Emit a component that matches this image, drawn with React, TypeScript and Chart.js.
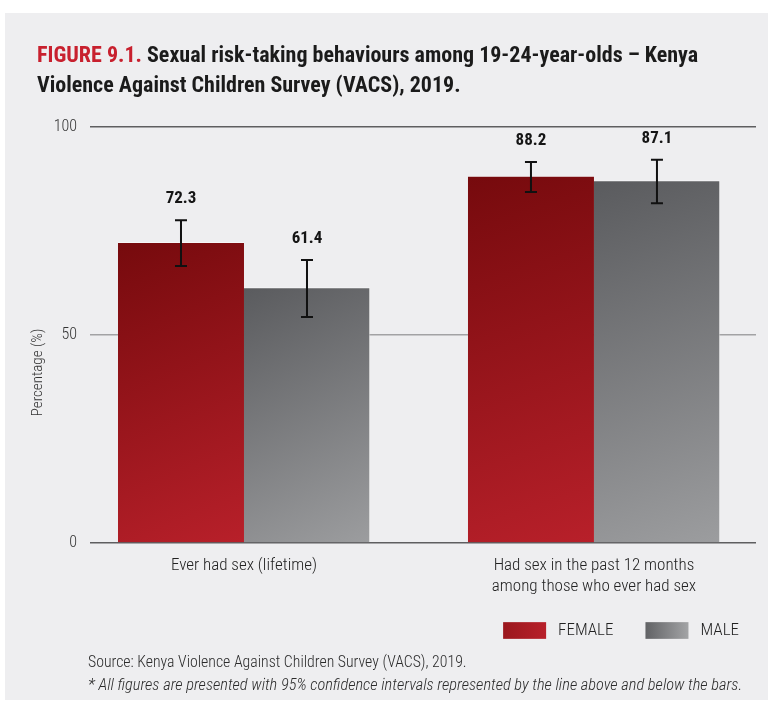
import React, { useEffect, useRef } from 'react';
import { Chart, registerables } from 'chart.js';

Chart.register(...registerables);

const categories: string[][] = [
  ['Ever had sex (lifetime)'],
  ['Had sex in the past 12 months', 'among those who ever had sex'],
];
const seriesNames = ['FEMALE', 'MALE'];
const femaleValues = [72.3, 88.2];
const maleValues = [61.4, 87.1];
const femaleLow = [66.6, 84.4];
const femaleHigh = [77.6, 91.6];
const maleLow = [54.3, 81.7];
const maleHigh = [68.0, 92.1];
const yTicks = [0, 50, 100];

const COND = '"Roboto Condensed", "DejaVu Sans Condensed", sans-serif';

export default function App() {
  const ref = useRef<HTMLCanvasElement>(null);

  useEffect(() => {
    const canvas = ref.current!;
    const ctxMain = canvas.getContext('2d')!;
    const highs = [femaleHigh, maleHigh];
    const lows = [femaleLow, maleLow];
    const solid = ['#9c161c', '#7d7e81'];
    const grad = [
      ['#760a0d', '#b8202a'],
      ['#5a5b5e', '#9c9d9f'],
    ];
    const legendGrad = [
      ['#9a171d', '#b8202a'],
      ['#616265', '#a3a4a6'],
    ];
    const BAR = 126;
    const SW = 43;
    const SW_OFF = 7;

    const barColor = (di: number) => (context: any) => {
      if (context.type !== 'data') return solid[di];
      const chart = context.chart;
      const xs = chart.scales.x;
      const ys = chart.scales.y;
      if (!xs || !ys || !chart.chartArea) return solid[di];
      const cx = xs.getPixelForValue(context.dataIndex) + (di === 0 ? -BAR / 2 : BAR / 2);
      const top = ys.getPixelForValue(context.raw.y);
      const bottom = ys.getPixelForValue(0);
      if (!isFinite(cx) || !isFinite(top)) return solid[di];
      const g = ctxMain.createLinearGradient(cx - BAR / 2, top, cx + BAR / 2, bottom);
      g.addColorStop(0, grad[di][0]);
      g.addColorStop(1, grad[di][1]);
      return g;
    };

    const errorPlugin = {
      id: 'errorBars',
      afterDatasetsDraw(chart: any) {
        const ctx = chart.ctx;
        const ys = chart.scales.y;
        ctx.save();
        chart.data.datasets.forEach((ds: any, di: number) => {
          const meta = chart.getDatasetMeta(di);
          meta.data.forEach((bar: any, i: number) => {
            const x = bar.x;
            const yh = ys.getPixelForValue(highs[di][i]);
            const yl = ys.getPixelForValue(lows[di][i]);
            ctx.strokeStyle = '#111';
            ctx.lineWidth = 2;
            ctx.beginPath();
            ctx.moveTo(x, yh);
            ctx.lineTo(x, yl);
            ctx.moveTo(x - 6, yh);
            ctx.lineTo(x + 6, yh);
            ctx.moveTo(x - 6, yl);
            ctx.lineTo(x + 6, yl);
            ctx.stroke();
            ctx.fillStyle = '#151515';
            ctx.font = `bold 17px ${COND}`;
            ctx.textAlign = 'center';
            ctx.textBaseline = 'middle';
            ctx.fillText(ds.data[i].y.toFixed(1), x, yh - 21);
          });
        });
        ctx.restore();
      },
      afterDraw(chart: any) {
        const ctx = chart.ctx;
        const area = chart.chartArea;
        ctx.save();
        ctx.translate(38, area.top + (area.bottom - area.top) * 0.59);
        ctx.rotate(-Math.PI / 2);
        ctx.fillStyle = '#333';
        ctx.font = `300 15px ${COND}`;
        ctx.textAlign = 'center';
        ctx.textBaseline = 'middle';
        ctx.fillText('Percentage (%)', 0, 0);
        ctx.restore();
        const lg = chart.legend;
        if (lg && lg.legendHitBoxes) {
          const bh = lg.options.labels.boxHeight;
          lg.legendHitBoxes.forEach((hb: any, i: number) => {
            const top = hb.top + (hb.height - bh) / 2;
            const left = hb.left + SW_OFF;
            const g = ctx.createLinearGradient(left, 0, left + SW, 0);
            g.addColorStop(0, legendGrad[i][0]);
            g.addColorStop(1, legendGrad[i][1]);
            ctx.fillStyle = g;
            ctx.fillRect(left, top, SW, bh);
          });
        }
      },
    };

    const chart = new Chart(canvas, {
      type: 'bar',
      data: {
        datasets: [
          {
            label: seriesNames[0],
            data: femaleValues.map((v, i) => ({ x: i, y: v })),
            backgroundColor: barColor(0),
            borderColor: 'rgba(255,255,255,0.45)',
            borderWidth: { top: 1, left: 0, right: 0, bottom: 0 },
            borderSkipped: false,
          },
          {
            label: seriesNames[1],
            data: maleValues.map((v, i) => ({ x: i, y: v })),
            backgroundColor: barColor(1),
            borderColor: 'rgba(255,255,255,0.45)',
            borderWidth: { top: 1, left: 0, right: 1, bottom: 0 },
            borderSkipped: false,
          },
        ],
      },
      options: {
        responsive: false,
        animation: false,
        barThickness: BAR,
        layout: { padding: { top: 127, right: 4, bottom: 60, left: 0 } },
        scales: {
          x: {
            type: 'linear',
            offset: false,
            min: -0.44,
            max: 1.463,
            afterBuildTicks: (s: any) => {
              s.ticks = categories.map((_, i) => ({ value: i }));
            },
            afterFit: (s: any) => {
              s.height = 54;
            },
            grid: { display: false, drawTicks: false },
            border: { display: false },
            ticks: {
              autoSkip: false,
              maxRotation: 0,
              padding: 13,
              color: '#222',
              font: { family: COND, size: 17, weight: '300', lineHeight: 1.2 },
              callback: (v: any) => categories[v as number] ?? '',
            },
          },
          y: {
            min: 0,
            max: 100,
            afterBuildTicks: (s: any) => {
              s.ticks = yTicks.map((v) => ({ value: v }));
            },
            afterFit: (s: any) => {
              s.width = 90;
            },
            grid: {
              drawTicks: false,
              lineWidth: 1.5,
              color: (c: any) => (c.tick && c.tick.value === 50 ? '#a2a2a4' : '#5e5e60'),
            },
            border: { display: false },
            ticks: {
              padding: 13,
              color: '#333',
              font: { family: COND, size: 16, weight: '300' },
            },
          },
          yRightSpace: {
            position: 'right',
            display: true,
            grid: { display: false, drawTicks: false },
            border: { display: false },
            ticks: { display: false },
            afterFit: (s: any) => {
              s.width = 8;
            },
          },
        },
        plugins: {
          tooltip: { enabled: false },
          legend: {
            position: 'bottom',
            align: 'end',
            labels: {
              boxWidth: 46.5 + SW_OFF,
              boxHeight: 16.7,
              padding: 25,
              color: '#222',
              font: { family: COND, size: 17, weight: '300' },
              generateLabels: (c: any) =>
                (Chart.defaults.plugins.legend.labels.generateLabels as any)(c).map((l: any) => ({
                  ...l,
                  fillStyle: 'rgba(0,0,0,0)',
                  strokeStyle: 'rgba(0,0,0,0)',
                  lineWidth: 0,
                })),
            },
          },
        },
      } as any,
      plugins: [errorPlugin],
    });
    return () => chart.destroy();
  }, []);

  return (
    <div style={{ position: 'absolute', left: 0, top: 0, width: 768, height: 709, background: '#fff', overflow: 'hidden' }}>
      <div style={{ position: 'absolute', left: 5, top: 13, width: 763, height: 687, background: '#eeeef0' }} />
      <canvas ref={ref} width={768} height={709} style={{ position: 'absolute', left: 0, top: 0, width: 768, height: 709 }} />
      <div
        style={{
          position: 'absolute',
          left: 37,
          top: 40,
          fontFamily: COND,
          fontWeight: 700,
          fontSize: 22,
          lineHeight: '30px',
          color: '#1b1b1b',
          whiteSpace: 'nowrap',
        }}
      >
        <span style={{ color: '#c8202e' }}>FIGURE 9.1.</span> Sexual risk-taking behaviours among 19-24-year-olds – Kenya
        <br />
        Violence Against Children Survey (VACS), 2019.
      </div>
      <div style={{ position: 'absolute', left: 88, top: 650, fontFamily: COND, fontWeight: 300, lineHeight: '23px', color: '#2b2b2b', whiteSpace: 'nowrap' }}>
        <div style={{ fontSize: 15.8 }}>Source: Kenya Violence Against Children Survey (VACS), 2019.</div>
        <div style={{ fontSize: 16.4, fontStyle: 'italic' }}>* All figures are presented with 95% confidence intervals represented by the line above and below the bars.</div>
      </div>
    </div>
  );
}
